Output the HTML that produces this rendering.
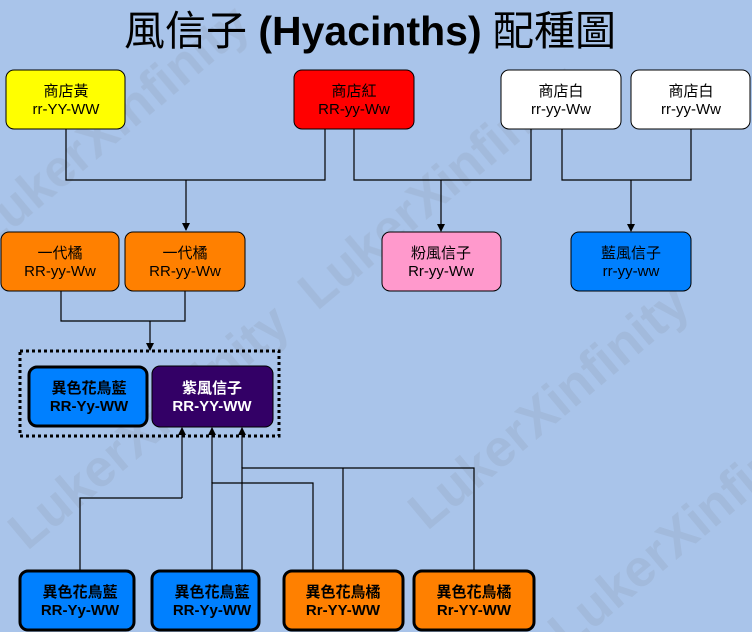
<!DOCTYPE html>
<html><head><meta charset="utf-8"><style>
html,body{margin:0;padding:0;background:#a9c4ea;width:752px;height:632px;overflow:hidden;}
svg{display:block;overflow:hidden;}
text{font-family:"Liberation Sans","Noto Sans CJK TC",sans-serif;font-weight:bold;font-size:15px;text-anchor:middle;}
.t{font-weight:normal;}
.w{font-size:52px;font-weight:bold;fill:#9fb4d2;}
</style></head><body>
<svg width="752" height="632" viewBox="0 0 752 632" xmlns="http://www.w3.org/2000/svg">
<defs><marker id="a" markerWidth="8" markerHeight="8" refX="7" refY="4" orient="auto" markerUnits="userSpaceOnUse"><path d="M0,0 L8,4 L0,8 z" fill="#000"/></marker>
<clipPath id="c"><rect width="752" height="632"/></clipPath></defs>
<rect width="752" height="632" fill="#a9c4ea"/>
<g opacity="0.6" clip-path="url(#c)">
<text class="w" x="120" y="140" transform="rotate(-40 120 140)">LukerXinfinity</text>
<text class="w" x="450" y="200" transform="rotate(-40 450 200)">LukerXinfinity</text>
<text class="w" x="160" y="440" transform="rotate(-40 160 440)">LukerXinfinity</text>
<text class="w" x="560" y="420" transform="rotate(-40 560 420)">LukerXinfinity</text>
<text class="w" x="700" y="540" transform="rotate(-40 700 540)">LukerXinfinity</text>
</g>
<text x="370" y="45" style="font-size:41px;font-weight:normal" class="t">風信子 <tspan font-weight="bold">(Hyacinths)</tspan> 配種圖</text>
<g fill="none" stroke="#000" stroke-width="1.2">
<path d="M66,129 V180 H325 V129"/><path d="M186,180 V230" marker-end="url(#a)"/>
<path d="M354,129 V180 H531 V129"/><path d="M441,180 V231" marker-end="url(#a)"/>
<path d="M562,129 V180 H691 V129"/><path d="M631,180 V231" marker-end="url(#a)"/>
<path d="M61,291 V321 H185 V291"/><path d="M150,321 V350" marker-end="url(#a)"/>
<path d="M80,570 V498 H182"/><path d="M182,498 V428" marker-end="url(#a)"/>
<path d="M212,570 V483 H313 V570"/><path d="M212,483 V428" marker-end="url(#a)"/>
<path d="M242,570 V468 H474 V570"/><path d="M343,468 V570"/><path d="M242,468 V428" marker-end="url(#a)"/>
</g>
<rect x="20" y="351" width="259" height="85" fill="none" stroke="#000" stroke-width="3" stroke-dasharray="3,3"/>
<g stroke="#000" stroke-width="1">
<rect x="6" y="70" width="119" height="59" rx="8" fill="#ffff00"/>
<rect x="294" y="70" width="120" height="59" rx="8" fill="#ff0000"/>
<rect x="501" y="70" width="120" height="59" rx="8" fill="#ffffff"/>
<rect x="631" y="70" width="119" height="59" rx="8" fill="#ffffff"/>
<rect x="1" y="232" width="118" height="59" rx="8" fill="#ff8000"/>
<rect x="125" y="232" width="120" height="59" rx="8" fill="#ff8000"/>
<rect x="382" y="232" width="119" height="59" rx="8" fill="#ff99cc"/>
<rect x="571" y="232" width="120" height="59" rx="8" fill="#0080ff"/>
<rect x="152" y="366" width="121" height="61" rx="8" fill="#330066"/>
</g>
<g stroke="#000" stroke-width="3">
<rect x="29" y="367" width="118" height="59" rx="8" fill="#0080ff"/>
<rect x="20" y="571" width="114" height="59" rx="8" fill="#0080ff"/>
<rect x="152" y="571" width="107" height="59" rx="8" fill="#0080ff"/>
<rect x="284" y="571" width="119" height="59" rx="8" fill="#ff8000"/>
<rect x="414" y="571" width="120" height="59" rx="8" fill="#ff8000"/>
</g>
<g>
<text x="66" y="96" class="t">商店黃</text><text x="66" y="114" class="t">rr-YY-WW</text>
<text x="354" y="96" class="t">商店紅</text><text x="354" y="114" class="t">RR-yy-Ww</text>
<text x="561" y="96" class="t">商店白</text><text x="561" y="114" class="t">rr-yy-Ww</text>
<text x="691" y="96" class="t">商店白</text><text x="691" y="114" class="t">rr-yy-Ww</text>
<text x="60" y="258" class="t">一代橘</text><text x="60" y="276" class="t">RR-yy-Ww</text>
<text x="185" y="258" class="t">一代橘</text><text x="185" y="276" class="t">RR-yy-Ww</text>
<text x="441" y="258" class="t">粉風信子</text><text x="441" y="276" class="t">Rr-yy-Ww</text>
<text x="631" y="258" class="t">藍風信子</text><text x="631" y="276" class="t">rr-yy-ww</text>
<text x="89" y="393">異色花鳥藍</text><text x="89" y="411">RR-Yy-WW</text>
<text x="212" y="393" fill="#fff">紫風信子</text><text x="212" y="411" fill="#fff">RR-YY-WW</text>
<text x="80" y="597">異色花鳥藍</text><text x="80" y="615">RR-Yy-WW</text>
<text x="212" y="597">異色花鳥藍</text><text x="212" y="615">RR-Yy-WW</text>
<text x="343" y="597">異色花鳥橘</text><text x="343" y="615">Rr-YY-WW</text>
<text x="474" y="597">異色花鳥橘</text><text x="474" y="615">Rr-YY-WW</text>
</g>
</svg>
</body></html>
